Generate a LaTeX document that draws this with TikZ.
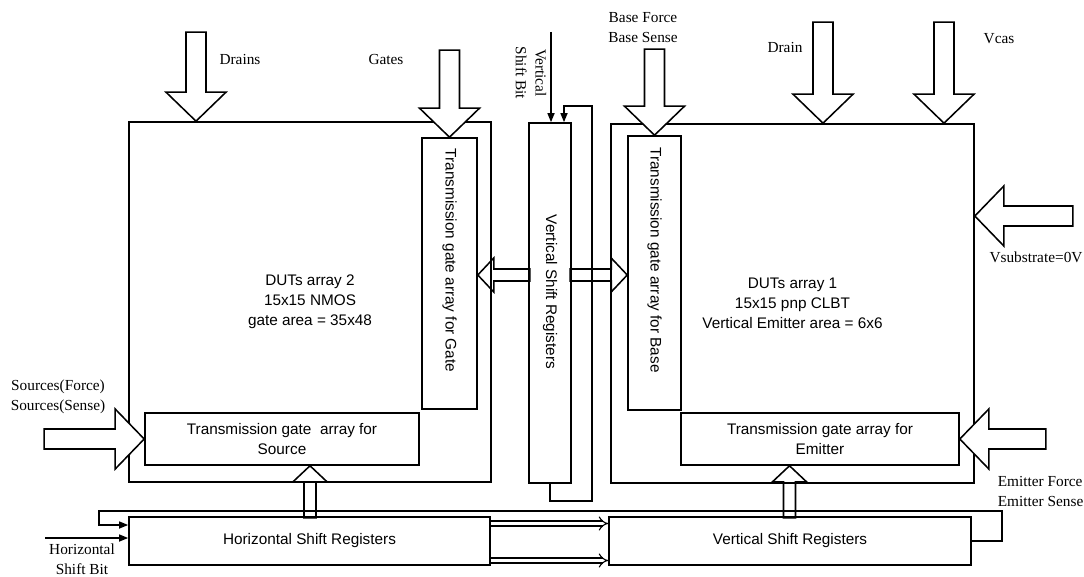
\documentclass[tikz,border=0pt]{standalone}
\usepackage{fontspec}
\setmainfont{Liberation Serif}
\setsansfont{Liberation Sans}
\usetikzlibrary{arrows.meta}

% hollow block arrows: rotation, tip, length
\newcommand{\fatarrow}[3]{\draw[fill=white, shift={#2}, rotate=#1] (0,0) -- (29,30) -- (29,10) -- (#3,10) -- (#3,-10) -- (29,-10) -- (29,-30) -- cycle;}
\newcommand{\slimarrow}[3]{\draw[shift={#2}, rotate=#1] (0,0) -- (16,17) -- (16,6) -- (#3,6) -- (#3,-6) -- (16,-6) -- (16,-17) -- cycle;}

\begin{document}
\begin{tikzpicture}[x=0.025cm, y=-0.025cm, line width=1.1pt,
  font=\fontsize{10.9}{14.2}\selectfont,
  box/.style={draw, font=\fontsize{10.9}{14.2}\selectfont\sffamily, align=center, inner sep=0pt},
  lbl/.style={align=center, inner sep=0pt},
  wire/.style={-{Triangle[length=6.5pt,width=5pt]}},
  bus/.style={double, double distance=2.7pt, line width=0.8pt, -{Implies}}
]
\useasboundingbox (0,0) rectangle (1084,577);

% arrays and transmission gates
\node[box, minimum width=9.05cm, minimum height=9cm] (arr2) at (310,302) {DUTs array 2\\15x15 NMOS\\gate area = 35x48};
\node[box, minimum width=1.375cm, minimum height=6.775cm] (gate) at (449.5,273.5) {\rotatebox{-90}{Transmission gate array for Gate\hspace{0.65cm}}};
\node[box, minimum width=6.85cm, minimum height=1.3cm] (src) at (282,439) {Transmission gate~ array for\\Source};
\node[box, minimum width=1.05cm, minimum height=9cm] (vsreg) at (550,303) {\rotatebox{-90}{Vertical Shift Registers\hspace{0.55cm}}};
\node[box, minimum width=9.075cm, minimum height=8.975cm] (arr1) at (792.5,303.5) {DUTs array 1\\15x15 pnp CLBT\\Vertical Emitter area = 6x6};
\node[box, minimum width=1.325cm, minimum height=6.85cm] (base) at (654.5,273) {\rotatebox{-90}{Transmission gate array for Base\hspace{0.65cm}}};
\node[box, minimum width=6.95cm, minimum height=1.3cm] (emit) at (820,439) {Transmission gate array for\\Emitter};
\node[box, minimum width=9.025cm, minimum height=1.2cm] (hsr) at (309.5,541) {Horizontal Shift Registers};
\node[box, minimum width=9.05cm, minimum height=1.2cm] (vsr) at (790,541) {Vertical Shift Registers};

% labels
\node[lbl] (drains) at (240,60) {Drains};
\node[lbl] (gates) at (386,60) {Gates};
\node[lbl] (basefs) at (643,28) {Base Force\\Base Sense};
\node[lbl] (drain) at (785,48) {Drain};
\node[lbl] (vcas) at (999,39) {Vcas};
\node[lbl] (vsub) at (1036,257) {Vsubstrate=0V};
\node[lbl, anchor=west, align=left] (emitfs) at (997,491.5) {Emitter Force\\Emitter Sense};
\node[lbl] (srcfs) at (58,397) {Sources(Force)\\Sources(Sense)};
\node[lbl] (hbitlbl) at (82,559) {Horizontal\\Shift Bit};
\node[lbl, rotate=-90] (vbitlbl) at (531,73) {Vertical\\Shift Bit};

% block arrows
\fatarrow{90}{(196,0 |- arr2.north)}{89}
\fatarrow{90}{(gate.north)}{87}
\fatarrow{90}{(base.north)}{86}
\fatarrow{90}{(823,0 |- arr1.north)}{101}
\fatarrow{90}{(944,0 |- arr1.north)}{101}
\fatarrow{0}{(arr1.east |- 0,216)}{98}
\fatarrow{0}{(emit.east)}{86}
\fatarrow{180}{(src.west)}{100}
\slimarrow{-90}{(310,0 |- src.south)}{52}
\slimarrow{-90}{(789.5,0 |- emit.south)}{52}
\slimarrow{0}{(gate.east |- 0,275)}{52}
\slimarrow{180}{(base.west |- 0,275)}{57}

% shift bits
\coordinate (vbit) at (551,32);
\draw[wire] (vbit) -- (vbit |- vsreg.north);
\draw[wire] (vsreg.south) -- ++(0,17) -| (592,106) -| (564,0 |- vsreg.north);
\coordinate (hbit) at (45,538);
\draw[wire] (hbit) -- (hbit -| hsr.west);
\draw[wire] (vsr.east) -- (1002,541) |- (99,511) |- (hsr.west |- 0,525);
\draw[bus] (hsr.east |- 0,523.5) -- (vsr.west |- 0,523.5);
\draw[bus] (hsr.east |- 0,560.5) -- (vsr.west |- 0,560.5);
\end{tikzpicture}
\end{document}
